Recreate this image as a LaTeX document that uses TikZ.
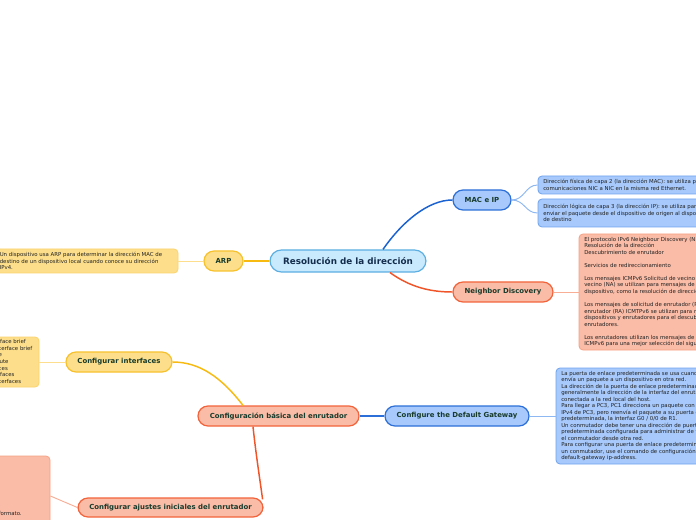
\documentclass[tikz,border=0pt]{standalone}
\usepackage{fontspec}
\setmainfont{DejaVu Sans}
\usetikzlibrary{calc}
\definecolor{cfill}{HTML}{C8EAFC}
\definecolor{cdraw}{HTML}{5AAEE2}
\definecolor{ctext}{HTML}{152E4E}
\definecolor{bfill}{HTML}{A7C9FB}
\definecolor{bdraw}{HTML}{2C6FD8}
\definecolor{bline}{HTML}{1A62D2}
\definecolor{btdraw}{HTML}{6FA3EE}
\definecolor{blight}{HTML}{8DB8F2}
\definecolor{ofill}{HTML}{FABCA7}
\definecolor{odraw}{HTML}{F2633B}
\definecolor{oline}{HTML}{F0552A}
\definecolor{otdraw}{HTML}{F6A284}
\definecolor{olight}{HTML}{F8AE95}
\definecolor{yfill}{HTML}{FDDF8B}
\definecolor{ydraw}{HTML}{F7C12E}
\definecolor{yline}{HTML}{F7BA10}
\definecolor{ytdraw}{HTML}{FCD36E}
\definecolor{ylight}{HTML}{FCDE8E}
\definecolor{ltext}{HTML}{183B2C}
\definecolor{stext}{HTML}{222222}
\begin{document}
\begin{tikzpicture}[x=0.75pt,y=-0.75pt,
  topic/.style={rounded corners=7.5pt, line width=0.9pt, inner sep=0pt,
    font=\fontsize{5.2}{6}\selectfont\bfseries, text=ltext, minimum height=15pt},
  tbox/.style={rounded corners=3pt, line width=0.6pt, inner sep=0pt},
  txt/.style={font=\fontsize{4.05}{4.9}\selectfont, text=stext, align=left, inner sep=0pt, anchor=west},
  conn/.style={line width=1.1pt},
  thin/.style={line width=0.7pt}]
\useasboundingbox (0,0) rectangle (696,520);
\clip (0,0) rectangle (696,520);
\fill[white] (0,0) rectangle (696,520);

% ---- text boxes ----
\node[tbox, fill=yfill, draw=ytdraw, minimum width=184*0.75pt, minimum height=24*0.75pt] (arpbox) at (86,261) {};
\node[txt] (arptxt) at (-0.5,261) {Un dispositivo usa ARP para determinar la dirección MAC de\\destino de un dispositivo local cuando conoce su dirección\\IPv4.};

\node[tbox, fill=bfill, draw=btdraw, minimum width=222*0.75pt, minimum height=18*0.75pt] (mac1) at (649,185) {};
\node[txt] (mac1t) at (543,185) {Dirección física de capa 2 (la dirección MAC): se utiliza para\\comunicaciones NIC a NIC en la misma red Ethernet.};
\node[tbox, fill=bfill, draw=btdraw, minimum width=222*0.75pt, minimum height=28*0.75pt] (mac2) at (649,213) {};
\node[txt] (mac2t) at (543,213) {Dirección lógica de capa 3 (la dirección IP): se utiliza para\\enviar el paquete desde el dispositivo de origen al dispositivo\\de destino};

\node[tbox, fill=ofill, draw=otdraw, minimum width=200*0.75pt, minimum height=116*0.75pt] (ndbox) at (679,292) {};
\node[txt] (ndtxt) at (584,292) {El protocolo IPv6 Neighbour Discovery (ND) proporciona:\\Resolución de la dirección\\Descubrimiento de enrutador\\~\\Servicios de redireccionamiento\\~\\Los mensajes ICMPv6 Solicitud de vecino (NS) y Anuncio de\\vecino (NA) se utilizan para mensajes de dispositivo a\\dispositivo, como la resolución de direcciones.\\~\\Los mensajes de solicitud de enrutador (RS) y anuncio de\\enrutador (RA) ICMTPv6 se utilizan para mensajes entre\\dispositivos y enrutadores para el descubrimiento de\\enrutadores.\\~\\Los enrutadores utilizan los mensajes de redirección\\ICMPv6 para una mejor selección del siguiente salto.};

\node[tbox, fill=bfill, draw=btdraw, minimum width=220*0.75pt, minimum height=96*0.75pt] (gwbox) at (666,416) {};
\node[txt] (gwtxt) at (561,416) {La puerta de enlace predeterminada se usa cuando un host\\envía un paquete a un dispositivo en otra red.\\La dirección de la puerta de enlace predeterminada es\\generalmente la dirección de la interfaz del enrutador\\conectada a la red local del host.\\Para llegar a PC3, PC1 direcciona un paquete con la dirección\\IPv4 de PC3, pero reenvía el paquete a su puerta de enlace\\predeterminada, la interfaz G0 / 0/0 de R1.\\Un conmutador debe tener una dirección de puerta de enlace\\predeterminada configurada para administrar de forma remota\\el conmutador desde otra red.\\Para configurar una puerta de enlace predeterminada en\\un conmutador, use el comando de configuración global ip\\default-gateway ip-address.};

\node[tbox, fill=yfill, draw=ytdraw, minimum width=60*0.75pt, minimum height=50*0.75pt] (cibox) at (9,362) {};
\node[txt] (citxt) at (-35,362) {show ip interface brief\\show ipv6 interface brief\\show ip route\\show ipv6 route\\show interfaces\\show ip interfaces\\show ipv6 interfaces};

\node[tbox, fill=ofill, draw=otdraw, minimum width=70*0.75pt, minimum height=80*0.75pt] (cabox) at (15,496) {};
\node[txt] (catxt) at (-1.5,513) {formato.};

% ---- topic nodes ----
\node[topic, fill=cfill, draw=cdraw, text=ctext, minimum width=156*0.75pt, minimum height=22*0.75pt,
  rounded corners=8.5pt, font=\fontsize{6.6}{8}\selectfont\bfseries] (root) at (348,261) {Resolución de la dirección};
\node[topic, fill=yfill, draw=ydraw, minimum width=39*0.75pt] (arp) at (223.5,261) {ARP};
\node[topic, fill=bfill, draw=bdraw, minimum width=58*0.75pt] (mac) at (482,200) {MAC e IP};
\node[topic, fill=ofill, draw=odraw, minimum width=100*0.75pt] (nd) at (503,292) {Neighbor Discovery};
\node[topic, fill=ofill, draw=odraw, minimum width=161*0.75pt] (cb) at (278.5,416) {Configuración básica del enrutador};
\node[topic, fill=bfill, draw=bdraw, minimum width=144*0.75pt] (gw) at (457,416) {Configure the Default Gateway};
\node[topic, fill=yfill, draw=ydraw, minimum width=106*0.75pt] (ci) at (119,362) {Configurar interfaces};
\node[topic, fill=ofill, draw=odraw, minimum width=185*0.75pt, minimum height=19*0.75pt] (ca) at (170.5,507.5) {Configurar ajustes iniciales del enrutador};

% ---- connectors ----
\draw[conn, draw=yline] (arp.east) -- (root.west);
\draw[thin, draw=ylight] (arp.west) -- (arpbox.east);
\draw[conn, draw=bline] ($(root.north)+(35,0)$) .. controls (402,222) and (428,200) .. (mac.west);
\draw[conn, draw=oline] ($(root.south)+(42,0)$) .. controls (410,287) and (430,292) .. (nd.west);
\draw[thin, draw=blight] (mac.east) .. controls (525,200) and (525,185) .. (mac1.west);
\draw[thin, draw=blight] (mac.east) .. controls (525,200) and (525,213) .. (mac2.west);
\draw[thin, draw=olight] (nd.east) -- (ndbox.west);
\draw[conn, draw=bdraw] (cb.east) -- (gw.west);
\draw[thin, draw=blight] (gw.east) -- (gwbox.west);
\draw[conn, draw=yline] ($(cb.north)+(-35.5,0)$) .. controls (222,378) and (200,362) .. (ci.east);
\draw[thin, draw=ylight] (ci.west) -- (cibox.east);
\draw[conn, draw=oline] ($(cb.south)+(-25.5,0)$) .. controls (256,455) and (260,480) .. ($(ca.north east)+(-1,2)$);
\draw[thin, draw=olight] (ca.west) -- (cabox.east);
\end{tikzpicture}
\end{document}
